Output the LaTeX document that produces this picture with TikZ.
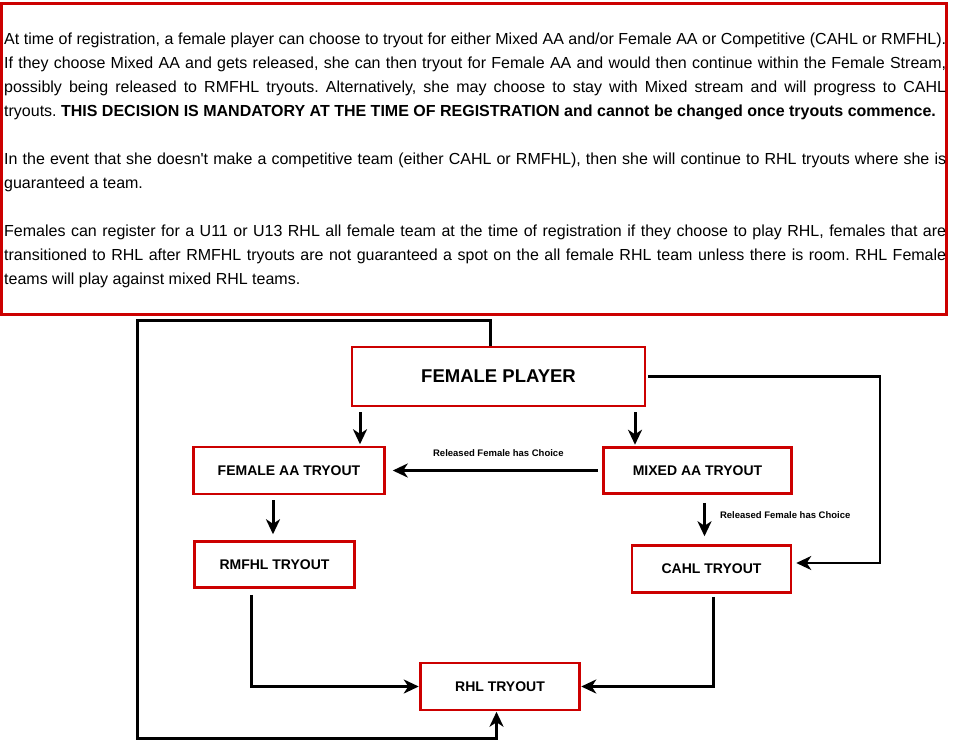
\documentclass[tikz,border=0pt]{standalone}
\usepackage{fontspec}
\setmainfont{Liberation Sans}
\usetikzlibrary{arrows.meta,calc}
\definecolor{boxred}{RGB}{204,0,0}

\begin{document}
\begin{tikzpicture}[x=1pt,y=-1pt,>={Stealth[length=15pt,width=14pt,inset=4.5pt]}, line join=miter,
	tbox/.style={draw=boxred,line width=2.5pt,fill=white,inner sep=0pt,font=\fontsize{14}{16}\selectfont\bfseries},
	arr/.style={->,line width=3pt},
	thinarr/.style={->,line width=2.2pt},
	choice/.style={font=\fontsize{9.5}{11}\selectfont\bfseries,inner sep=0pt}]
	\useasboundingbox (0,0) rectangle (955,750);
	% note at the top
	\draw[boxred,line width=3pt] (1.5,3) rectangle (946.5,314);
	\node[anchor=north west,inner sep=0pt,text width=942pt,align=justify,font=\fontsize{16}{24}\selectfont] (note) at (4,27.2) {\setlength{\parindent}{0pt}\frenchspacing\strut At time of registration, a female player can choose to tryout for either Mixed AA and/or Female AA or Competitive (CAHL or RMFHL).\linebreak If they choose Mixed AA and gets released, she can then tryout for Female AA and would then continue within the Female Stream,\linebreak possibly being released to RMFHL tryouts. Alternatively, she may choose to stay with Mixed stream and will progress to CAHL\linebreak tryouts. \textbf{THIS DECISION IS MANDATORY AT THE TIME OF REGISTRATION and cannot be changed once tryouts commence.}\par\vspace{24pt}
	In the event that she doesn\textquotesingle t make a competitive team (either CAHL or RMFHL), then she will continue to RHL tryouts where she is\linebreak guaranteed a team.\par\vspace{24pt}
	Females can register for a U11 or U13 RHL all female team at the time of registration if they choose to play RHL, females that are\linebreak transitioned to RHL after RMFHL tryouts are not guaranteed a spot on the all female RHL team unless there is room. RHL Female\linebreak teams will play against mixed RHL teams.};
	% boxes
	\node[tbox,minimum width=293pt,minimum height=59pt,font=\fontsize{18.5}{20}\selectfont\bfseries] (player) at (498.5,376.5) {FEMALE PLAYER};
	\node[tbox,minimum width=191pt,minimum height=47pt] (faa) at (289,470.5) {FEMALE AA TRYOUT};
	\node[tbox,minimum width=188pt,minimum height=46pt] (maa) at (697.5,470.5) {MIXED AA TRYOUT};
	\node[tbox,minimum width=160pt,minimum height=46pt] (rmfhl) at (274.5,564.5) {RMFHL TRYOUT};
	\node[tbox,minimum width=159pt,minimum height=47pt] (cahl) at (711.5,569) {CAHL TRYOUT};
	\node[tbox,minimum width=159pt,minimum height=47pt] (rhl) at (500,686.5) {RHL TRYOUT};
	\coordinate (rc) at (880,0);
	\coordinate (lc) at (137,738.5);
	\coordinate (cahlin) at ([yshift=6pt]cahl.east);
	% arrows
	\draw[arr,shorten <=5pt,shorten >=1.5pt] ([xshift=-138.5pt]player.south) -- ([xshift=-138.5pt]player.south |- faa.north);
	\draw[arr,shorten <=5pt,shorten >=1.5pt] ([xshift=136.5pt]player.south) -- ([xshift=136.5pt]player.south |- maa.north);
	\draw[arr,shorten <=4.5pt,shorten >=7pt] (maa.west) -- (faa.east) node[choice,pos=0.48,above=12pt] {Released Female has Choice};
	\draw[arr,shorten <=5pt,shorten >=6pt] ([xshift=-16pt]faa.south) -- ([xshift=-16pt]faa.south |- rmfhl.north);
	\draw[arr,shorten <=8pt,shorten >=8pt] ([xshift=7pt]maa.south) -- ([xshift=7pt]maa.south |- cahl.north) node[choice,pos=0.42,right=14pt] {Released Female has Choice};
	\draw[thinarr,shorten <=2pt,shorten >=4pt] (player.east) -- (player.east -| rc) -- (rc |- cahlin) -- (cahlin);
	\draw[arr,shorten <=6pt,shorten >=0.5pt] ([xshift=-23.5pt]rmfhl.south) |- (rhl.west);
	\draw[arr,shorten <=3pt,shorten >=0.5pt] ([xshift=1.5pt]cahl.south) |- (rhl.east);
	\draw[arr,shorten >=0.5pt] ([xshift=-8.5pt]player.north) -- ++(0,-25) -| (lc) -| ([xshift=-3.5pt]rhl.south);
\end{tikzpicture}
\end{document}
